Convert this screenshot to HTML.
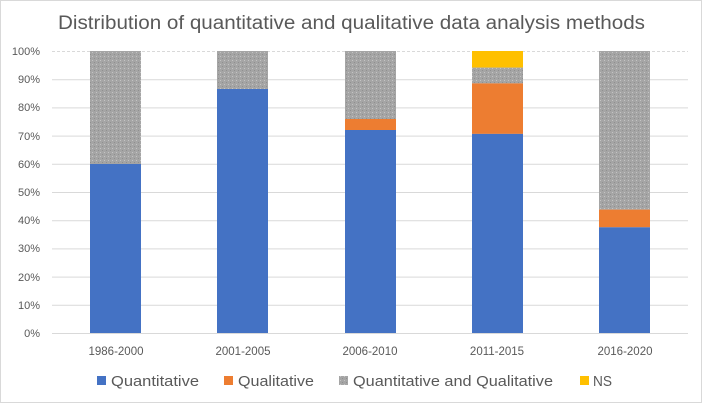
<!DOCTYPE html>
<html><head><style>body{margin:0;background:#fff}svg text{font-family:"Liberation Sans",sans-serif;fill:#595959}</style></head><body>
<svg width="702" height="403" xmlns="http://www.w3.org/2000/svg">
<defs><pattern id="g" width="4" height="4" patternUnits="userSpaceOnUse"><rect width="4" height="4" fill="#a5a5a5"/><rect width="1" height="1" fill="#c4c4c4"/><rect x="2" y="2" width="1" height="1" fill="#8f8f8f"/></pattern></defs>
<rect x="0.5" y="0.5" width="701" height="402" fill="#fff" stroke="#d9d9d9"/>
<text x="58" y="29" font-size="19" textLength="587" lengthAdjust="spacingAndGlyphs">Distribution of quantitative and qualitative data analysis methods</text>
<g stroke="#d9d9d9" stroke-width="1">
<line x1="52" x2="688" y1="51.5" y2="51.5" stroke-dasharray="3,2"/>
<line x1="52" x2="688" y1="79.7" y2="79.7"/><line x1="52" x2="688" y1="107.9" y2="107.9"/><line x1="52" x2="688" y1="136.1" y2="136.1"/><line x1="52" x2="688" y1="164.3" y2="164.3"/><line x1="52" x2="688" y1="192.5" y2="192.5"/><line x1="52" x2="688" y1="220.7" y2="220.7"/><line x1="52" x2="688" y1="248.9" y2="248.9"/><line x1="52" x2="688" y1="277.1" y2="277.1"/><line x1="52" x2="688" y1="305.3" y2="305.3"/><line x1="52" x2="688" y1="333.5" y2="333.5"/>
</g>
<g font-size="11" text-anchor="end">
<text x="40" y="55">100%</text><text x="40" y="83">90%</text><text x="40" y="111">80%</text><text x="40" y="140">70%</text><text x="40" y="168">60%</text><text x="40" y="196">50%</text><text x="40" y="224">40%</text><text x="40" y="252">30%</text><text x="40" y="281">20%</text><text x="40" y="309">10%</text><text x="40" y="337">0%</text>
</g>
<rect x="90" y="51" width="51" height="113" fill="url(#g)"/><rect x="90" y="164" width="51" height="169" fill="#4472c4"/>
<rect x="217" y="51" width="51" height="38" fill="url(#g)"/><rect x="217" y="89" width="51" height="244" fill="#4472c4"/>
<rect x="345" y="51" width="51" height="68" fill="url(#g)"/><rect x="345" y="119" width="51" height="11" fill="#ed7d31"/><rect x="345" y="130" width="51" height="203" fill="#4472c4"/>
<rect x="472" y="51" width="51" height="16.6" fill="#ffc000"/><rect x="472" y="67.6" width="51" height="15.8" fill="url(#g)"/><rect x="472" y="83.4" width="51" height="50.5" fill="#ed7d31"/><rect x="472" y="133.9" width="51" height="199.1" fill="#4472c4"/>
<rect x="599" y="51" width="51" height="158.6" fill="url(#g)"/><rect x="599" y="209.6" width="51" height="17.7" fill="#ed7d31"/><rect x="599" y="227.3" width="51" height="105.7" fill="#4472c4"/>
<g font-size="11.5" text-anchor="middle">
<text x="116" y="355">1986-2000</text><text x="243" y="355">2001-2005</text><text x="370" y="355">2006-2010</text><text x="497" y="355">2011-2015</text><text x="625" y="355">2016-2020</text>
</g>
<g font-size="15">
<rect x="97" y="376" width="9" height="9" fill="#4472c4"/><text x="111" y="386" textLength="88" lengthAdjust="spacingAndGlyphs">Quantitative</text>
<rect x="224" y="376" width="9" height="9" fill="#ed7d31"/><text x="238" y="386" textLength="76" lengthAdjust="spacingAndGlyphs">Qualitative</text>
<rect x="339" y="376" width="9" height="9" fill="url(#g)"/><text x="353" y="386" textLength="200" lengthAdjust="spacingAndGlyphs">Quantitative and Qualitative</text>
<rect x="580" y="376" width="9" height="9" fill="#ffc000"/><text x="593" y="386" textLength="19" lengthAdjust="spacingAndGlyphs">NS</text>
</g>
</svg>
</body></html>
